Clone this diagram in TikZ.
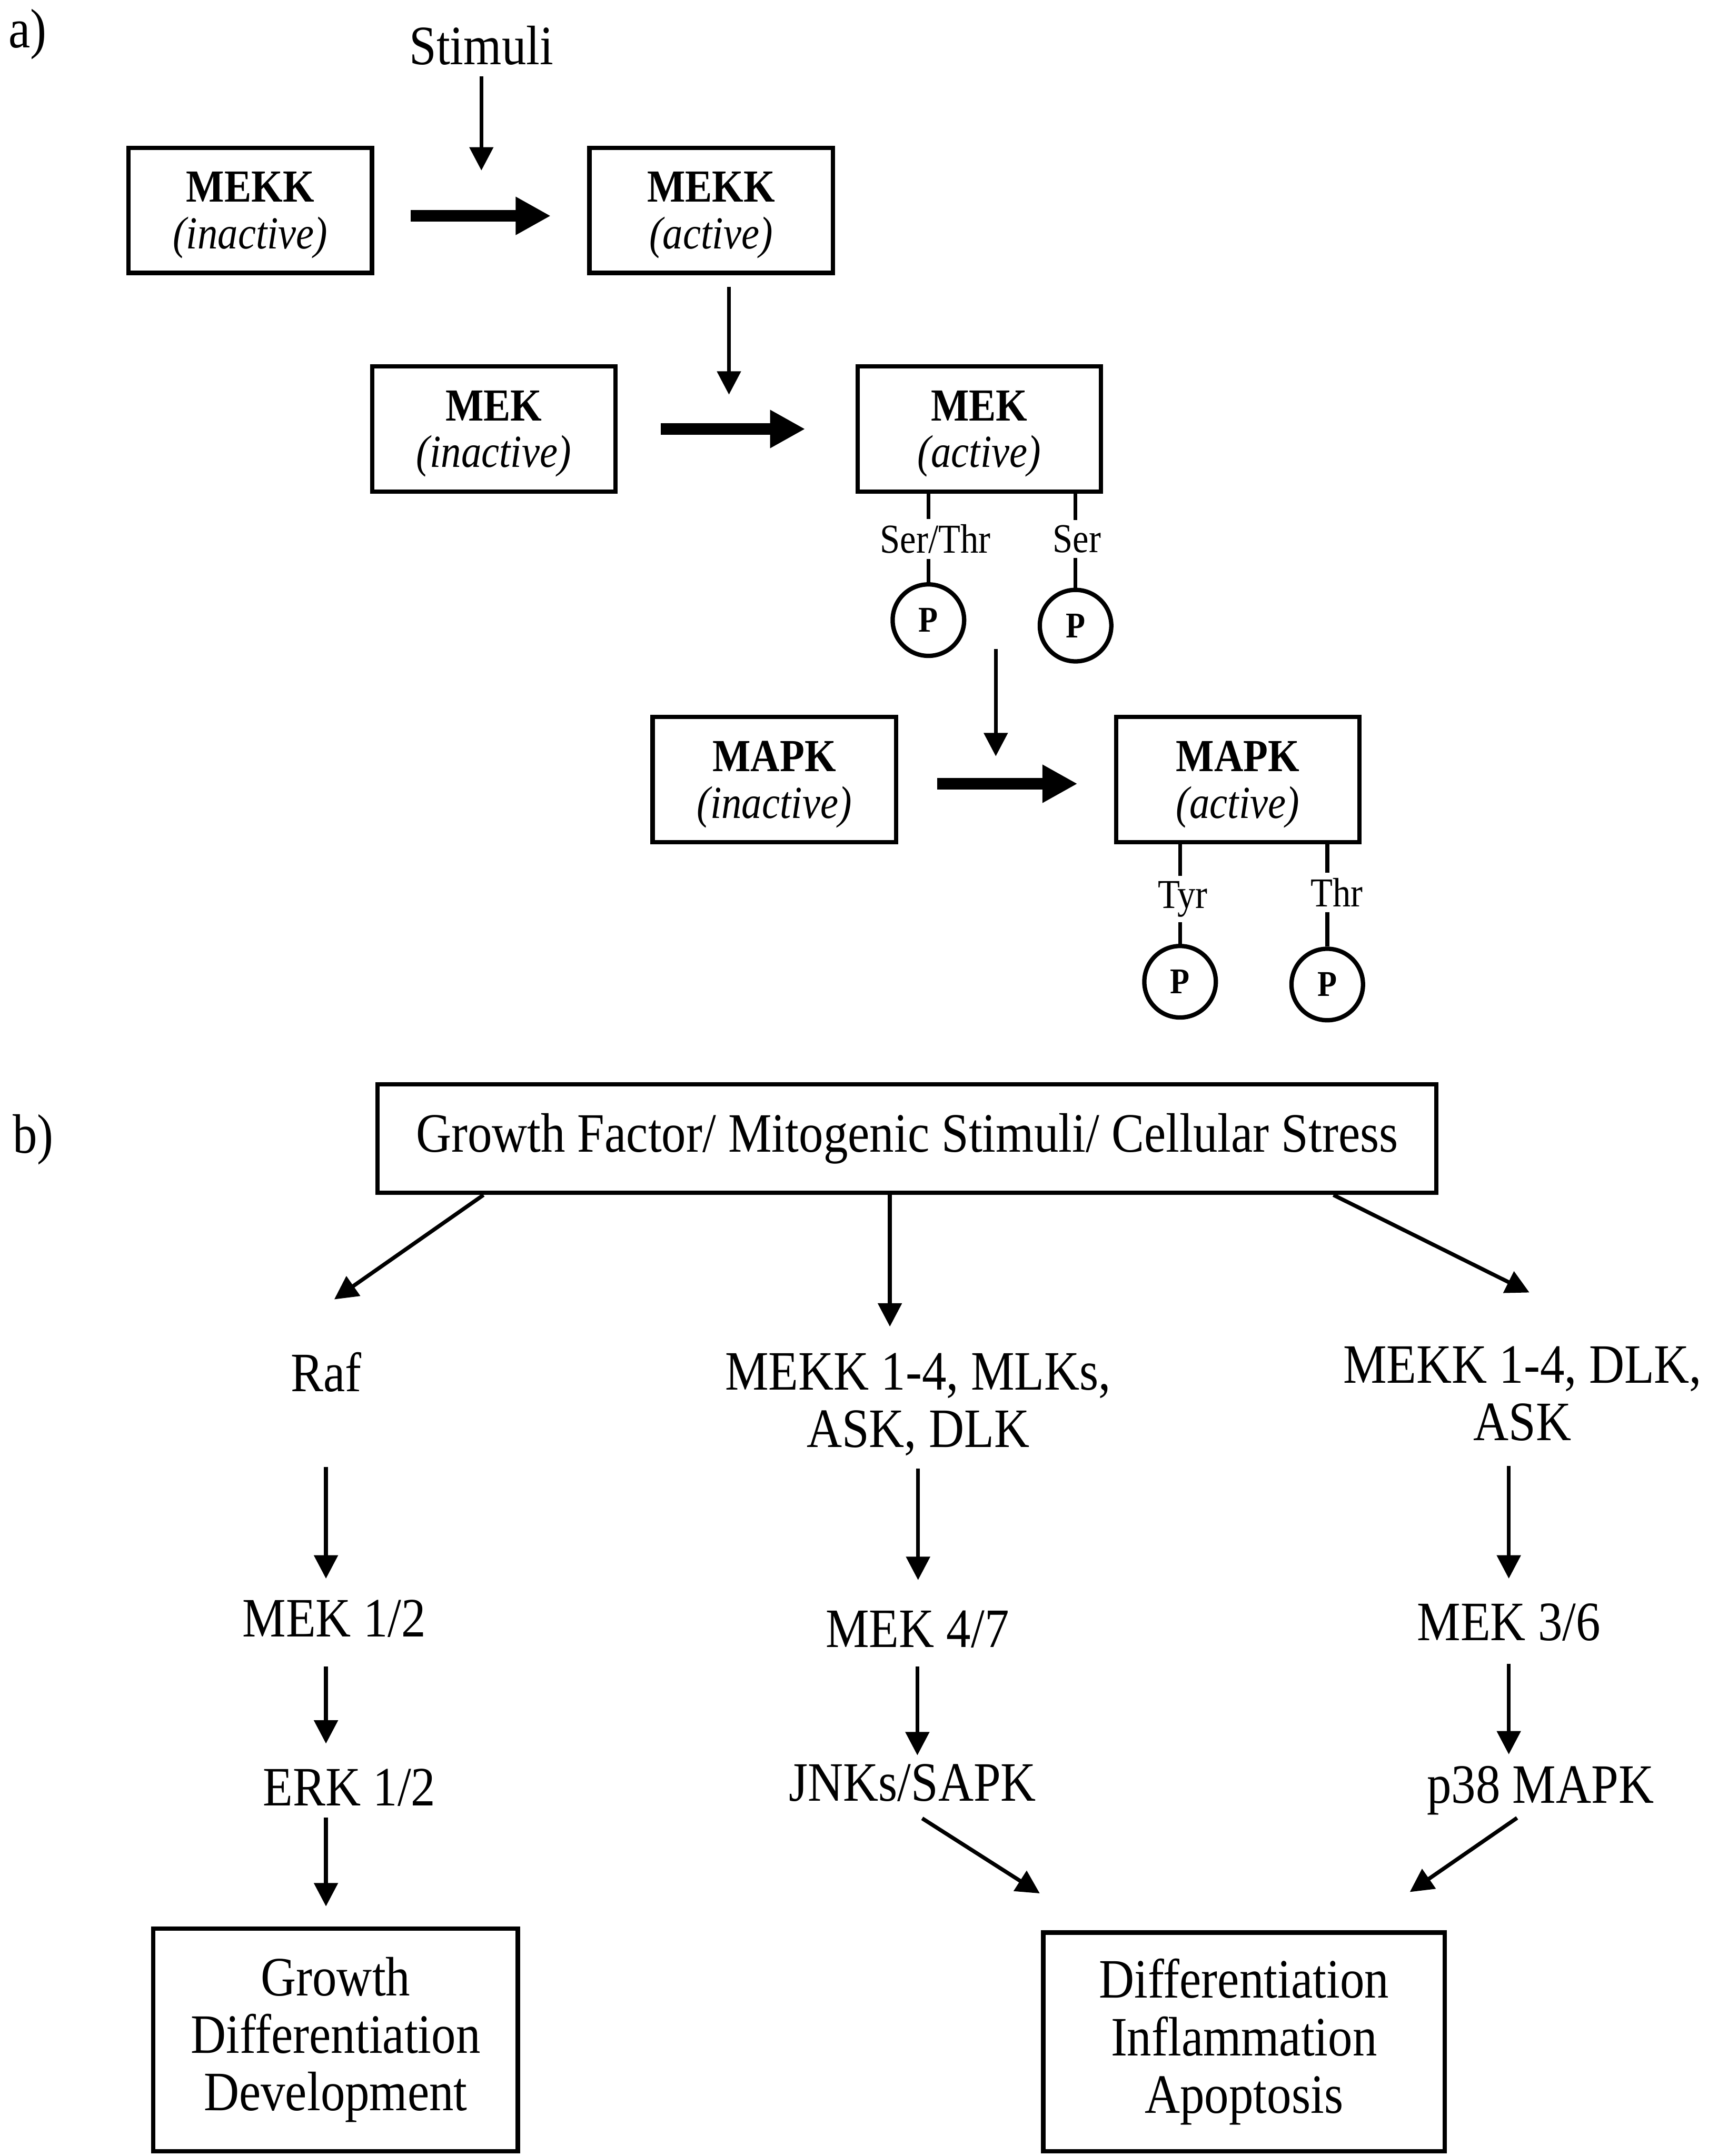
\documentclass[tikz,border=0pt]{standalone}
\usepackage{fontspec}
\setmainfont[FakeStretch=0.88]{Liberation Serif}
\usepackage{tikz}
\usetikzlibrary{arrows.meta, positioning, calc}

\tikzset{
	kinase/.style={draw, line width=1.8pt, minimum width=3.54cm, minimum height=1.82cm, align=center, text depth=0pt, font=\fontsize{19}{19.3}\selectfont},
	fate/.style={draw, line width=1.8pt, align=center, font=\fontsize{23}{23.8}\selectfont},
	lbl/.style={inner sep=0pt, align=center, font=\fontsize{23}{23.8}\selectfont},
	res/.style={inner sep=2pt, font=\fontsize{17}{19}\selectfont},
	phos/.style={draw, circle, line width=1.8pt, minimum size=1.04cm, inner sep=0pt, font=\fontsize{15}{17}\selectfont\bfseries},
	arr/.style={line width=1.6pt, -{Triangle[length=0.34cm,width=0.34cm]}},
	fat arr/.style={line width=4.7pt, -{Triangle[length=0.51cm,width=0.52cm]}},
	link/.style={line width=1.6pt}
}

\begin{document}
\begin{tikzpicture}[x=0.02cm, y=-0.02cm]
	\useasboundingbox (0,0) rectangle (1249,1568);

	% a) activation of the cascade
	\node[lbl] (parta) at (20,25) {a)};
	\node[lbl] (stim) at (350,33) {Stimuli};
	\node[kinase] (mekkin) at (182,153) {\textbf{MEKK}\\\textit{(inactive)}};
	\node[kinase] (mekkact) at (517,153) {\textbf{MEKK}\\\textit{(active)}};
	\node[kinase] (mekin) at (359,312) {\textbf{MEK}\\\textit{(inactive)}};
	\node[kinase] (mekact) at (712,312) {\textbf{MEK}\\\textit{(active)}};
	\node[kinase] (mapkin) at (563,567) {\textbf{MAPK}\\\textit{(inactive)}};
	\node[kinase] (mapkact) at (900,567) {\textbf{MAPK}\\\textit{(active)}};

	\node[res] (serthr) at (680,392) {Ser/Thr};
	\node[res] (ser) at (783,392) {Ser};
	\node[res] (tyr) at (860,654) {Tyr};
	\node[res] (thr) at (972,649) {Thr};
	\node[phos] (p1) at (675,451) {P};
	\node[phos] (p2) at (782,455) {P};
	\node[phos] (p3) at (858,714) {P};
	\node[phos] (p4) at (965,716) {P};

	\coordinate (stimtip) at (350,124);
	\coordinate (mekon) at (530,287);
	\coordinate (mapkfrom) at (724,472);
	\coordinate (mapkon) at (724,550);

	\draw[arr, shorten <=0.16cm] (stim) -- (stimtip);
	\draw[arr, shorten <=0.17cm] (mekkact.south -| mekon) -- (mekon);
	\draw[arr] (mapkfrom) -- (mapkon);

	\draw[fat arr, shorten <=0.53cm, shorten >=0.53cm] ([yshift=-0.08cm]mekkin.east) -- ([yshift=-0.08cm]mekkact.west);
	\draw[fat arr, shorten <=0.63cm, shorten >=0.73cm] (mekin.east) -- (mekact.west);
	\draw[fat arr, shorten <=0.57cm, shorten >=0.53cm] ([yshift=-0.06cm]mapkin.east) -- ([yshift=-0.06cm]mapkact.west);

	% phosphorylated residues
	\draw[link] (mekact.south -| p1) -- (serthr.north -| p1);
	\draw[link] (serthr.south -| p1) -- (p1);
	\draw[link] (mekact.south -| p2) -- (ser.north -| p2);
	\draw[link] (ser.south -| p2) -- (p2);
	\draw[link] (mapkact.south -| p3) -- (tyr.north -| p3);
	\draw[link] (tyr.south -| p3) -- (p3);
	\draw[link] (mapkact.south -| p4) -- (thr.north -| p4);
	\draw[link] (thr.south -| p4) -- (p4);

	% b) three pathways
	\node[lbl] (partb) at (24,829) {b)};
	\node[fate, minimum width=15.4cm, minimum height=1.58cm] (gf) at (659.5,828) {Growth Factor/ Mitogenic Stimuli/ Cellular Stress};
	\node[lbl] (raf) at (237,998) {Raf};
	\node[lbl] (mekk1) at (667.5,1021.5) {MEKK 1-4, MLKs,\\ASK, DLK};
	\node[lbl] (mekk2) at (1107,1013.5) {MEKK 1-4, DLK,\\ASK};
	\node[lbl] (mek12) at (243,1177) {MEK 1/2};
	\node[lbl] (mek47) at (667,1185) {MEK 4/7};
	\node[lbl] (mek36) at (1097,1180) {MEK 3/6};
	\node[lbl] (erk) at (254,1300) {ERK 1/2};
	\node[lbl] (jnk) at (663.5,1296.5) {JNKs/SAPK};
	\node[lbl] (p38) at (1120,1302) {p38 MAPK};
	\node[fate, minimum width=5.3cm, minimum height=3.24cm] (growth) at (244,1483.5) {Growth\\Differentiation\\Development};
	\node[fate, minimum width=5.84cm, minimum height=3.18cm] (stress) at (904.5,1485) {Differentiation\\Inflammation\\Apoptosis};

	\coordinate (raftip) at (243,945);
	\coordinate (mekk2tip) at (1112,940);
	\coordinate (stressin1) at (756,1377);
	\coordinate (stressin2) at (1025,1376);

	\draw[arr] ($(gf.south west)+(78.5,0)$) -- (raftip);
	\draw[arr, shorten >=0.38cm] ($(gf.south)+(-12.5,0)$) -- ($(mekk1.north)+(-20.5,0)$);
	\draw[arr] ($(gf.south east)+(-76.5,0)$) -- (mekk2tip);

	\draw[arr, shorten <=1.08cm, shorten >=0.3cm] (raf.south) -- (raf.south |- mek12.north);
	\draw[arr, shorten <=0.42cm, shorten >=0.36cm] (mek12.south -| raf) -- (erk.north -| raf);
	\draw[arr, shorten <=0.16cm, shorten >=0.29cm] (erk.south -| raf) -- (growth.north -| raf);

	\draw[arr, shorten <=0.18cm, shorten >=0.44cm] (mekk1.south) -- (mekk1.south |- mek47.north);
	\draw[arr, shorten <=0.26cm, shorten >=0.12cm] (mek47.south) -- (mek47.south |- jnk.north);
	\draw[arr] ($(jnk.south)+(7,12)$) -- (stressin1);

	\draw[arr, shorten <=0.36cm, shorten >=0.36cm] (mekk2.south -| mek36) -- (mek36.north);
	\draw[arr, shorten <=0.32cm, shorten >=0.16cm] (mek36.south) -- (mek36.south |- p38.north);
	\draw[arr] ($(p38.south)+(-17,2)$) -- (stressin2);
\end{tikzpicture}
\end{document}
